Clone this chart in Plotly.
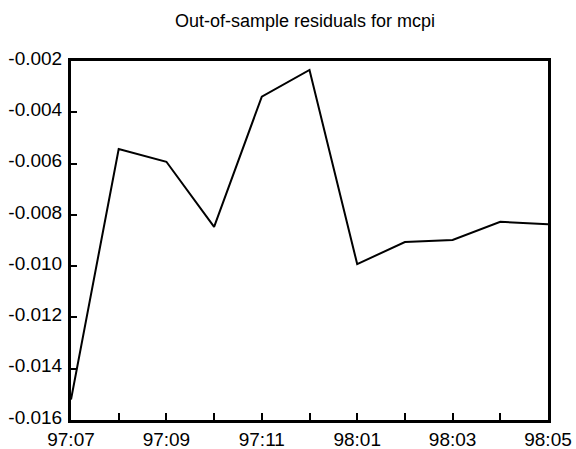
import plotly.graph_objects as go

# Monthly out-of-sample residuals, 1997:07 - 1998:05
months = ["97:07", "97:08", "97:09", "97:10", "97:11", "97:12",
          "98:01", "98:02", "98:03", "98:04", "98:05"]
residuals = [-0.0152, -0.00543, -0.00593, -0.00847, -0.00339, -0.00235,
             -0.00992, -0.00906, -0.00898, -0.00827, -0.00837]

y_ticks = [-0.016, -0.014, -0.012, -0.010, -0.008, -0.006, -0.004, -0.002]
y_labels = ["-0.016", "-0.014", "-0.012", "-0.010", "-0.008", "-0.006", "-0.004", "-0.002"]

x_pos = list(range(len(months)))
# label every other month, minor ticks in between
x_labels = [m if i % 2 == 0 else "" for i, m in enumerate(months)]

font_family = "Liberation Sans, Arial, sans-serif"

fig = go.Figure(
    go.Scatter(
        x=x_pos,
        y=residuals,
        mode="lines",
        line=dict(color="black", width=2),
        hoverinfo="skip",
    )
)

fig.update_layout(
    width=576,
    height=449,
    margin=dict(l=71, r=28, t=61, b=29, autoexpand=False),
    paper_bgcolor="white",
    plot_bgcolor="white",
    showlegend=False,
    title=dict(
        text="Out-of-sample residuals for mcpi",
        x=305 / 576,
        xanchor="center",
        y=1 - 21 / 449,
        yanchor="middle",
        font=dict(family=font_family, size=18, color="black"),
    ),
    font=dict(family=font_family, color="black"),
)

fig.update_xaxes(
    range=[0, len(months) - 1],
    tickvals=x_pos,
    ticktext=x_labels,
    ticks="inside",
    ticklen=7,
    tickwidth=1.5,
    tickcolor="black",
    showline=True,
    linewidth=3,
    linecolor="black",
    mirror=True,
    showgrid=False,
    zeroline=False,
    tickfont=dict(size=19, family=font_family, color="black"),
    ticklabelstandoff=0,
)

fig.update_yaxes(
    range=[-0.016, -0.002],
    tickvals=y_ticks,
    ticktext=y_labels,
    ticks="inside",
    ticklen=6,
    tickwidth=1.5,
    tickcolor="black",
    showline=True,
    linewidth=3,
    linecolor="black",
    mirror=True,
    showgrid=False,
    zeroline=False,
    tickfont=dict(size=19, family=font_family, color="black"),
    ticklabelstandoff=2,
    ticklabelshift=-3,
)

fig.write_html("out.html")
